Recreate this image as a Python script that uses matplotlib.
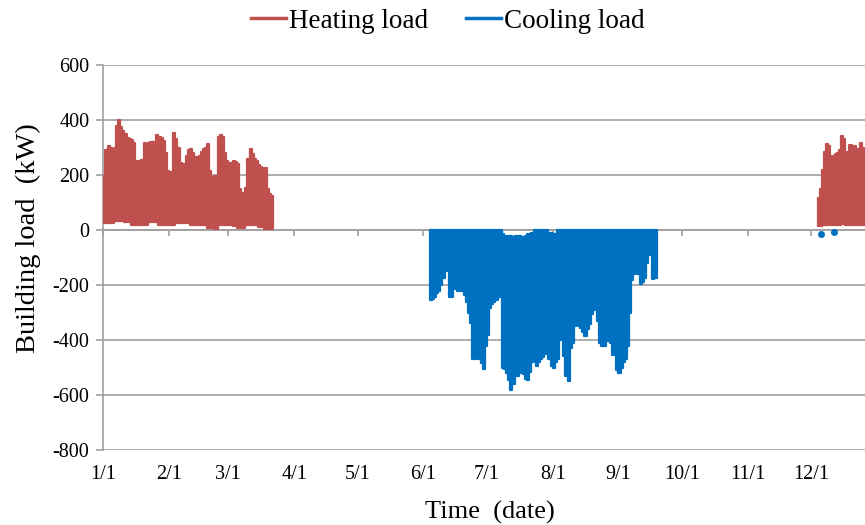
import numpy as np
import matplotlib
matplotlib.use("Agg")
import matplotlib.pyplot as plt
from matplotlib.lines import Line2D

plt.rcParams['font.family'] = ['Liberation Serif', 'DejaVu Serif']
plt.rcParams['axes.unicode_minus'] = False

# Month-start day-of-year and labels for the date axis
month_start_days = [0, 31, 59, 90, 120, 151, 181, 212, 243, 273, 304, 334]
month_labels = ['1/1', '2/1', '3/1', '4/1', '5/1', '6/1', '7/1', '8/1',
                '9/1', '10/1', '11/1', '12/1']

# Winter heating season (kW): daily peak and daily minimum, starting Jan 1
heat_winter_start = 0
heat_winter_peak = [196, 290, 305, 300, 263, 300, 378, 400, 373, 360,
                    350, 336, 330, 329, 318, 250, 250, 252, 256, 318,
                    305, 318, 320, 319, 290, 347, 340, 335, 325, 280,
                    214, 210, 205, 354, 330, 300, 245, 240, 238, 270,
                    290, 293, 280, 265, 250, 270, 285, 293, 300, 311,
                    214, 191, 195, 190, 340, 347, 340, 281, 250, 245,
                    245, 250, 248, 240, 150, 135, 129, 154, 260, 293,
                    275, 258, 250, 238, 230, 220, 225, 150, 130, 123]
heat_winter_min = [26, 26, 26, 26, 26, 32, 32, 32, 32, 32,
                   28, 28, 28, 20, 20, 20, 20, 20, 20, 20,
                   20, 29, 29, 29, 29, 29, 20, 20, 20, 20,
                   20, 20, 20, 20, 24, 24, 24, 24, 24, 24,
                   24, 20, 20, 20, 20, 20, 20, 20, 20, 8,
                   8, 8, 3, 3, 20, 20, 20, 20, 20, 20,
                   20, 15, 15, 7, 7, 7, 7, 20, 20, 20,
                   20, 20, 20, 11, 11, 11, 2, 2, 2, 2]

# December heating season (kW)
heat_dec_start = 337
heat_dec_peak = [117, 150, 220, 285, 311, 305, 240, 270, 275, 280,
                 290, 341, 330, 285, 285, 310, 300, 304, 295, 295,
                 318, 300, 240]
heat_dec_min = [15, 15, 18, 20, 20, 20, 18, 18, 20, 20,
                20, 22, 22, 20, 18, 18, 20, 20, 18, 18,
                20, 20, 20]

# Summer cooling season (kW, negative): daily peak and daily minimum magnitude
cool_start = 154
cool_peak = [-253, -250, -245, -230, -222, -200, -173, -150, -143, -245,
             -245, -215, -120, -221, -221, -221, -235, -263, -300, -337,
             -470, -470, -446, -470, -483, -506, -420, -380, -283, -270,
             -260, -253, -245, -240, -500, -506, -520, -545, -580, -560,
             -530, -530, -520, -513, -525, -540, -545, -515, -480, -470,
             -494, -480, -470, -460, -452, -445, -470, -494, -500, -480,
             -470, -400, -386, -458, -530, -550, -430, -410, -350, -337,
             -349, -355, -370, -386, -360, -340, -305, -290, -277, -330,
             -410, -420, -422, -400, -405, -410, -455, -452, -510, -521,
             -500, -480, -470, -420, -301, -180, -160, -155, -160, -196,
             -190, -175, -120, -82, -90, -177, -175]
cool_min = [0, 0, 0, 0, 0, 0, 0, 0, 0, 0,
            0, 0, 0, 0, 0, 0, 0, 0, 0, 0,
            0, 0, 0, 0, 0, 0, 0, 0, 0, 0,
            0, 0, 0, 0, -15, -20, -20, -20, -20, -25,
            -20, -20, -20, -25, -40, -20, -15, -15, -10, 0,
            0, 0, 0, 0, 0, 0, -10, -10, -15, -15,
            0, 0, 0, 0, 0, 0, 0, 0, 0, 0,
            0, 0, 0, 0, 0, 0, 0, 0, 0, 0,
            0, 0, 0, 0, 0, 0, 0, 0, 0, 0,
            0, 0, 0, 0, 0, 0, 0, 0, 0, 0,
            0, 0, 0, 0, 0, 0, 0]

# Brief December cooling events (day of year, kW)
cool_dec_days = [338, 344]
cool_dec_load = [-14, -6]

HEAT_COLOR = '#C0504D'
COOL_COLOR = '#0070C0'
GRID_COLOR = '#A0A0A0'

fig = plt.figure(figsize=(8.65, 5.25), dpi=100)
W, H = 865, 525
x0, x1, ytop, ybot = 103.3, 877.0, 65.0, 450.0
ax = fig.add_axes([x0 / W, 1 - ybot / H, (x1 - x0) / W, (ybot - ytop) / H])


def draw_season(start, peak, base, color):
    peak = np.asarray(peak, dtype=float)
    base = np.asarray(base, dtype=float)
    days = np.arange(start, start + len(peak) + 1)
    top = np.append(peak, peak[-1])
    bot = np.append(base, base[-1])
    ax.fill_between(days, bot, top, step='post', color=color,
                    edgecolor=color, linewidth=1.6, zorder=3)


draw_season(heat_winter_start, heat_winter_peak, heat_winter_min, HEAT_COLOR)
draw_season(heat_dec_start, heat_dec_peak, heat_dec_min, HEAT_COLOR)
draw_season(cool_start, cool_peak, cool_min, COOL_COLOR)
ax.plot(np.asarray(cool_dec_days) + 0.5, cool_dec_load, 'o', color=COOL_COLOR,
        markersize=4, zorder=3)

ax.set_xlim(0, 365)
ax.set_ylim(-800, 600)
ax.set_yticks(np.arange(-800, 601, 200))
ax.grid(axis='y', color=GRID_COLOR, linewidth=1.2)
ax.grid(axis='x', visible=False)
ax.set_axisbelow(True)

for side in ('top', 'right'):
    ax.spines[side].set_visible(False)
ax.spines['left'].set_color(GRID_COLOR)
ax.spines['left'].set_linewidth(1.2)
ax.spines['bottom'].set_position(('data', 0))
ax.spines['bottom'].set_color(GRID_COLOR)
ax.spines['bottom'].set_linewidth(1.2)
ax.spines['bottom'].set_zorder(2)

ax.set_xticks(month_start_days)
ax.tick_params(axis='x', direction='out', length=4, width=1.2,
               color=GRID_COLOR, labelbottom=False)
ax.tick_params(axis='y', direction='out', length=5, width=1.2,
               color=GRID_COLOR, labelsize=14.5, pad=5)

sec = ax.secondary_xaxis('bottom')
sec.set_xticks(month_start_days)
sec.set_xticklabels(month_labels)
sec.tick_params(length=0, labelsize=14.5, pad=11)
sec.spines['bottom'].set_visible(False)

fig.text(28 / W, 1 - 238 / H, 'Building load  (kW)', rotation=90,
         ha='center', va='center', fontsize=20.5)
fig.text(490 / W, 1 - 512 / H, 'Time  (date)', ha='center', va='center',
         fontsize=19)

handles = [Line2D([], [], color=HEAT_COLOR, linewidth=2.5),
           Line2D([], [], color=COOL_COLOR, linewidth=2.5)]
fig.legend(handles, ['Heating load', 'Cooling load'], loc='center',
           bbox_to_anchor=(448 / W, 1 - 21 / H), ncol=2, frameon=False,
           fontsize=19.5, handlelength=1.3, handletextpad=0.1,
           columnspacing=1.4)

fig.savefig('out.png', dpi=100)
